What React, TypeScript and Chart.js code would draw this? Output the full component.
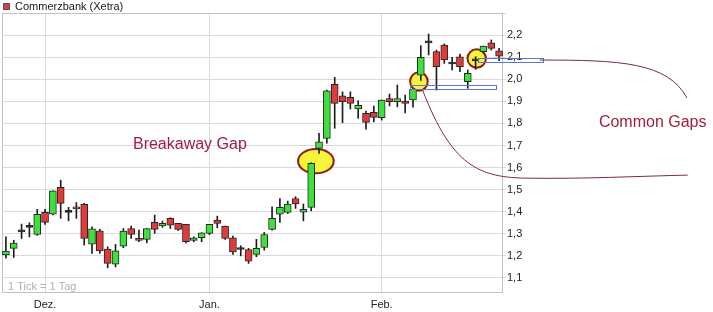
import React, { useEffect, useRef } from 'react';
import { Chart, registerables } from 'chart.js';

Chart.register(...registerables);

// ---- data -----------------------------------------------------------------
const seriesLabel = 'Commerzbank (Xetra)';
const footnote = '1 Tick = 1 Tag';

const categories = [
  '24.11.', '25.11.', '28.11.', '29.11.', '30.11.',
  '01.12.', '02.12.', '05.12.', '06.12.', '07.12.', '08.12.', '09.12.', '12.12.', '13.12.', '14.12.', '15.12.',
  '16.12.', '19.12.', '20.12.', '21.12.', '22.12.', '23.12.', '27.12.', '28.12.', '29.12.', '30.12.',
  '02.01.', '03.01.', '04.01.', '05.01.', '06.01.', '09.01.', '10.01.', '11.01.', '12.01.', '13.01.', '16.01.',
  '17.01.', '18.01.', '19.01.', '20.01.', '23.01.', '24.01.', '25.01.', '26.01.', '27.01.', '30.01.', '31.01.',
  '01.02.', '02.02.', '03.02.', '06.02.', '07.02.', '08.02.', '09.02.', '10.02.', '13.02.', '14.02.', '15.02.',
  '16.02.', '17.02.', '20.02.', '21.02.', '22.02.',
];

const opens = [
  1.204, 1.234, 1.309, 1.329, 1.297, 1.397, 1.389, 1.510, 1.397, 1.422,
  1.433, 1.253, 1.314, 1.231, 1.163, 1.244, 1.324, 1.279, 1.275, 1.352,
  1.336, 1.370, 1.347, 1.343, 1.270, 1.282, 1.302, 1.362, 1.335, 1.282,
  1.229, 1.229, 1.207, 1.238, 1.320, 1.389, 1.397, 1.460, 1.398, 1.420,
  1.687, 1.732, 1.977, 1.925, 1.918, 1.866, 1.846, 1.850, 1.826, 1.913,
  1.898, 1.901, 1.906, 2.019, 2.165, 2.125, 2.155, 2.069, 2.102, 1.989,
  2.083, 2.125, 2.165, 2.129,
];
const highs = [
  1.286, 1.271, 1.344, 1.350, 1.411, 1.411, 1.495, 1.543, 1.420, 1.442,
  1.438, 1.332, 1.320, 1.241, 1.252, 1.324, 1.335, 1.317, 1.324, 1.385,
  1.358, 1.373, 1.347, 1.343, 1.286, 1.305, 1.343, 1.380, 1.335, 1.290,
  1.246, 1.234, 1.275, 1.306, 1.422, 1.460, 1.448, 1.468, 1.435, 1.622,
  1.755, 1.951, 2.009, 1.943, 1.943, 1.903, 1.856, 1.879, 1.906, 1.933,
  1.974, 1.928, 1.954, 2.152, 2.205, 2.132, 2.160, 2.099, 2.114, 2.042,
  2.102, 2.150, 2.178, 2.140,
];
const lows = [
  1.190, 1.193, 1.279, 1.286, 1.293, 1.343, 1.386, 1.370, 1.359, 1.370,
  1.249, 1.211, 1.211, 1.146, 1.150, 1.237, 1.279, 1.264, 1.259, 1.302,
  1.329, 1.324, 1.315, 1.259, 1.264, 1.264, 1.296, 1.327, 1.275, 1.207,
  1.200, 1.166, 1.196, 1.226, 1.317, 1.352, 1.392, 1.415, 1.359, 1.404,
  1.664, 1.710, 1.778, 1.803, 1.865, 1.823, 1.774, 1.807, 1.815, 1.879,
  1.875, 1.848, 1.873, 1.995, 2.110, 1.951, 2.072, 2.042, 2.034, 1.959,
  2.045, 2.118, 2.132, 2.084,
];
const closes = [
  1.222, 1.258, 1.309, 1.329, 1.388, 1.352, 1.495, 1.438, 1.397, 1.413,
  1.279, 1.323, 1.222, 1.166, 1.223, 1.312, 1.297, 1.270, 1.324, 1.320,
  1.347, 1.339, 1.320, 1.264, 1.282, 1.305, 1.343, 1.347, 1.279, 1.218,
  1.229, 1.176, 1.234, 1.297, 1.370, 1.420, 1.435, 1.435, 1.411, 1.619,
  1.717, 1.947, 1.891, 1.898, 1.891, 1.882, 1.805, 1.827, 1.906, 1.898,
  1.913, 1.891, 1.954, 2.099, 2.165, 2.057, 2.087, 2.069, 2.057, 2.027,
  2.083, 2.150, 2.140, 2.105,
];

const monthTickLabels = ['Dez.', 'Jan.', 'Feb.'];
const monthTickIndices = [5, 26, 48];

const yMin = 1.032;
const yMax = 2.3;
const yStep = 0.1;
const yLabelMax = 2.2;

// annotations, in data units (category index, price)
const gapEllipses = [
  { x: 39.6, y: 1.629, rx: 17.8, ry: 12.2 },
  { x: 52.76, y: 1.99, rx: 8.8, ry: 9.2 },
  { x: 60.14, y: 2.094, rx: 9.2, ry: 9.2 },
];
const gapBoxes = [
  { x0: 51.6, x1: 62.6, y0: 1.974, y1: 1.958 },
  { x0: 60.26, x1: 68.63, y0: 2.095, y1: 2.079 },
];
const connectorCurves = [
  [
    [53.27, 1.947], [56.97, 1.611], [60.3, 1.552], [66.93, 1.552],
    [73.3, 1.548], [81.0, 1.561], [87.1, 1.566],
  ],
  [
    [68.21, 2.087], [78.43, 2.087], [84.56, 2.078], [87.0, 1.915],
  ],
];
const noteTexts = [
  { text: 'Breakaway Gap', x: 16.23, y: 1.706 },
  { text: 'Common Gaps', x: 75.75, y: 1.802 },
];

// ---- styles ---------------------------------------------------------------
const FONT = '"Liberation Sans", Arial, sans-serif';
const UP = '#3ee03e';
const DOWN = '#e23a3a';
const FLAT = '#1a1a1a';

const notesPlugin = {
  id: 'gapNotes',
  beforeDatasetsDraw(chart: any) {
    const { ctx, chartArea, scales } = chart;
    const xs = scales.x;
    const ys = scales.y;
    ctx.save();
    ctx.strokeStyle = '#c2c2c2';
    ctx.lineWidth = 1;
    ctx.strokeRect(chartArea.left + 0.5, chartArea.top + 0.5, chartArea.width - 1, chartArea.height - 1);

    ctx.fillStyle = '#b0b0b0';
    ctx.font = `11px ${FONT}`;
    ctx.textBaseline = 'middle';
    ctx.textAlign = 'left';
    ctx.fillText(footnote, chartArea.left + 6, chartArea.bottom - 6);

    for (const e of gapEllipses) {
      ctx.beginPath();
      ctx.ellipse(xs.getPixelForValue(e.x), ys.getPixelForValue(e.y), e.rx, e.ry, 0, 0, Math.PI * 2);
      ctx.fillStyle = '#f8f43a';
      ctx.fill();
      ctx.lineWidth = 2;
      ctx.strokeStyle = '#8c1c1c';
      ctx.stroke();
    }
    ctx.restore();
  },
  afterDatasetsDraw(chart: any) {
    const { ctx, scales } = chart;
    const xs = scales.x;
    const ys = scales.y;
    const px = (p: number[]) => [xs.getPixelForValue(p[0]), ys.getPixelForValue(p[1])];
    ctx.save();
    ctx.strokeStyle = '#5a78d2';
    ctx.lineWidth = 1;
    for (const b of gapBoxes) {
      const x0 = Math.round(xs.getPixelForValue(b.x0)) + 0.5;
      const x1 = Math.round(xs.getPixelForValue(b.x1)) + 0.5;
      const y0 = Math.round(ys.getPixelForValue(b.y0)) + 0.5;
      const y1 = Math.round(ys.getPixelForValue(b.y1)) + 0.5;
      ctx.strokeRect(x0, y0, x1 - x0, y1 - y0);
    }
    ctx.strokeStyle = '#7d2752';
    ctx.lineWidth = 1;
    for (const c of connectorCurves) {
      ctx.beginPath();
      const p0 = px(c[0]);
      ctx.moveTo(p0[0], p0[1]);
      for (let i = 1; i + 2 < c.length; i += 3) {
        const a = px(c[i]);
        const b = px(c[i + 1]);
        const d = px(c[i + 2]);
        ctx.bezierCurveTo(a[0], a[1], b[0], b[1], d[0], d[1]);
      }
      ctx.stroke();
    }
    ctx.fillStyle = '#a01e3e';
    ctx.font = `16px ${FONT}`;
    ctx.textBaseline = 'middle';
    ctx.textAlign = 'left';
    for (const t of noteTexts) {
      const p = px([t.x, t.y]);
      ctx.fillText(t.text, p[0], p[1]);
    }

    // legend
    ctx.fillStyle = DOWN;
    ctx.fillRect(3, 3, 7, 7);
    ctx.strokeStyle = '#555';
    ctx.strokeRect(3.5, 3.5, 6, 6);
    ctx.fillStyle = '#1a1a1a';
    ctx.font = `11px ${FONT}`;
    ctx.fillText(chart.data.datasets[0].label, 15, 7);
    ctx.restore();
  },
};

export default function App() {
  const ref = useRef<HTMLCanvasElement | null>(null);

  useEffect(() => {
    if (!ref.current) return;
    const bodyColors = opens.map((o, i) => (closes[i] > o ? UP : closes[i] < o ? DOWN : FLAT));
    const chart = new Chart(ref.current, {
      type: 'bar',
      data: {
        labels: categories,
        datasets: [
          {
            label: seriesLabel,
            data: opens.map((o, i) => [o, closes[i]]) as any,
            backgroundColor: bodyColors,
            borderColor: '#262626',
            borderWidth: 1,
            borderSkipped: false,
            barThickness: 7,
            minBarLength: 2,
            grouped: false,
            order: 0,
          } as any,
          {
            label: 'wick',
            data: lows.map((l, i) => [l, highs[i]]) as any,
            backgroundColor: '#1e1e1e',
            borderWidth: 0,
            barThickness: 1,
            grouped: false,
            order: 1,
          } as any,
        ],
      },
      options: {
        animation: false,
        responsive: false,
        maintainAspectRatio: false,
        devicePixelRatio: 1,
        layout: { padding: { left: 2, top: 13, right: 0, bottom: 0 } },
        plugins: {
          legend: { display: false },
          tooltip: { enabled: false },
        },
        font: { family: FONT, size: 11 },
        scales: {
          x: {
            type: 'category',
            offset: true,
            grid: {
              offset: false,
              drawTicks: false,
              color: (ctx: any) => (monthTickIndices.includes(ctx.index) ? '#dadada' : 'rgba(0,0,0,0)'),
            },
            border: { display: false },
            ticks: {
              autoSkip: false,
              maxRotation: 0,
              padding: 5,
              color: '#222',
              font: { family: FONT, size: 11 },
              callback: (_v: any, i: number) => {
                const k = monthTickIndices.indexOf(i);
                return k >= 0 ? monthTickLabels[k] : '';
              },
            },
            afterFit: (s: any) => {
              s.height = 19;
            },
          },
          y: {
            type: 'linear',
            position: 'right',
            min: yMin,
            max: yMax,
            grid: { color: '#dadada', tickLength: 3 },
            border: { display: false },
            ticks: {
              stepSize: yStep,
              includeBounds: false,
              padding: 1,
              color: '#222',
              font: { family: FONT, size: 11 },
              callback: (v: any) => (Number(v) > yLabelMax + 0.01 ? '' : Number(v).toFixed(1).replace('.', ',')),
            },
            afterFit: (s: any) => {
              s.width = 210;
            },
          },
        },
      } as any,
      plugins: [notesPlugin],
    });
    return () => chart.destroy();
  }, []);

  return (
    <div style={{ position: 'absolute', left: 0, top: 0, width: 713, height: 312, background: '#fff' }}>
      <canvas ref={ref} width={713} height={312} style={{ width: 713, height: 312, display: 'block' }} />
    </div>
  );
}
